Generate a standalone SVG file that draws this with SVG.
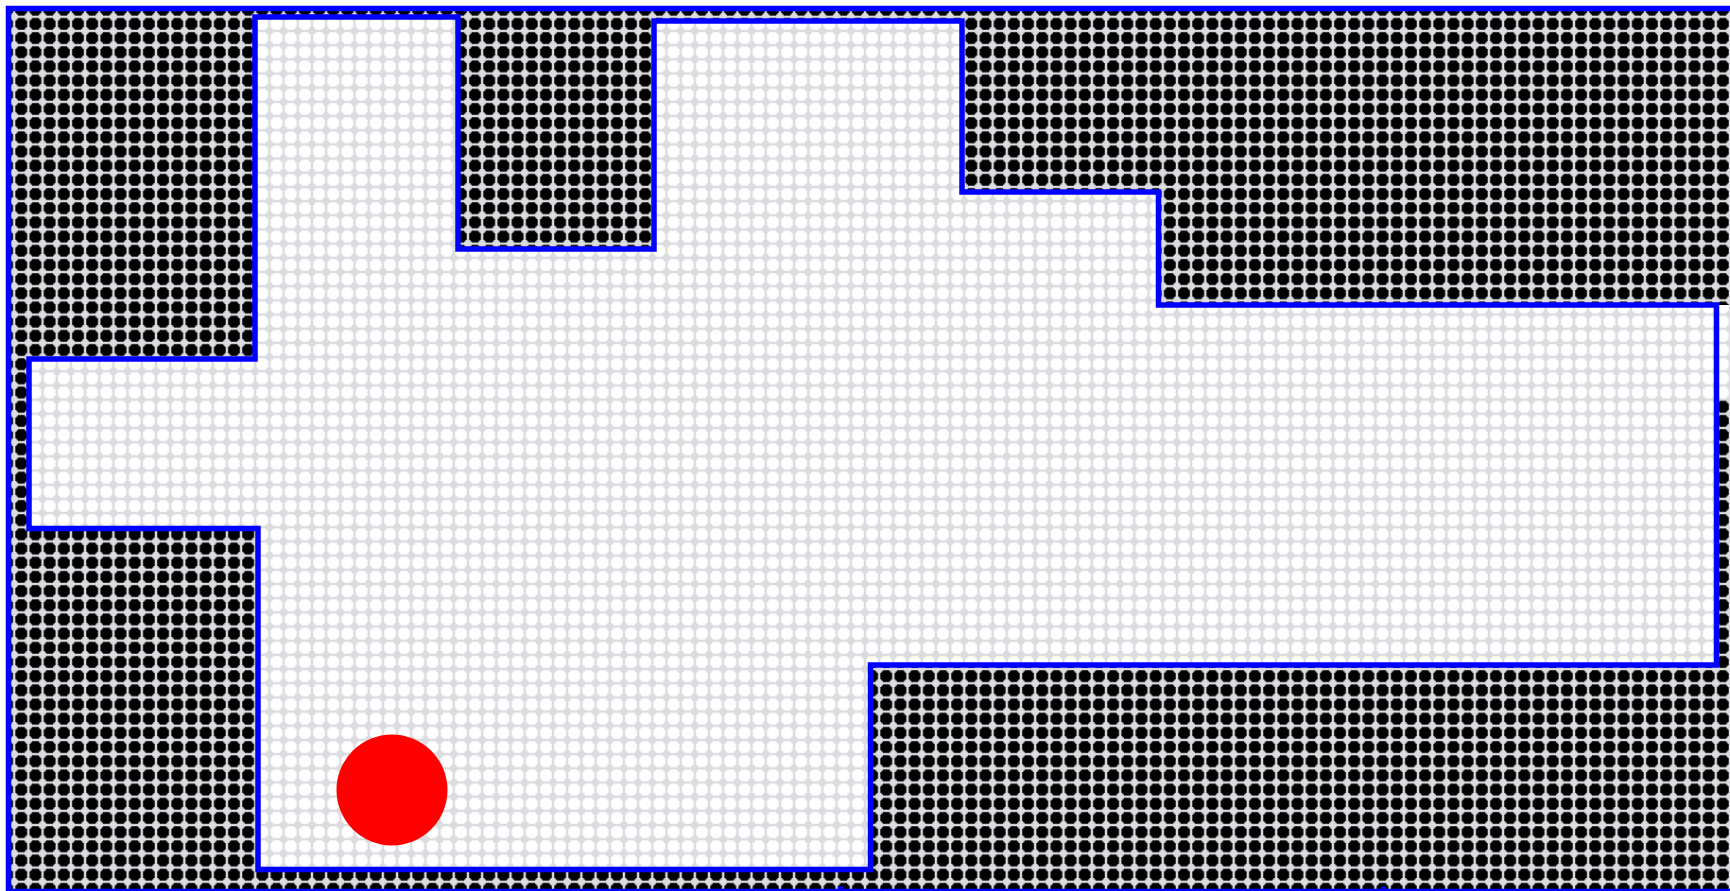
<svg xmlns="http://www.w3.org/2000/svg" width="1730" height="891" viewBox="0 0 1730 891">
  <style>
    .outline { fill: none; stroke: #0000ff; stroke-width: 5.5; stroke-linejoin: miter; }
    .tick { fill: #0000ff; }
  </style>
  <defs>
    <pattern id="occ" patternUnits="userSpaceOnUse" x="0" y="2.6" width="14.18" height="14.18">
      <rect x="0" y="0" width="14.18" height="14.18" fill="#dcdce0"/>
      <polygon points="3.7,1.2 10.48,1.2 10.48,2.4 11.78,2.4 11.78,3.7 12.98,3.7 12.98,10.48 11.78,10.48 11.78,11.78 10.48,11.78 10.48,12.98 3.7,12.98 3.7,11.78 2.4,11.78 2.4,10.48 1.2,10.48 1.2,3.7 2.4,3.7 2.4,2.4 3.7,2.4" fill="#000000"/>
    </pattern>
    <pattern id="free" patternUnits="userSpaceOnUse" x="0" y="2.6" width="14.18" height="14.18">
      <rect x="0" y="0" width="14.18" height="14.18" fill="#dcdce0"/>
      <polygon points="3.7,1.2 10.48,1.2 10.48,2.4 11.78,2.4 11.78,3.7 12.98,3.7 12.98,10.48 11.78,10.48 11.78,11.78 10.48,11.78 10.48,12.98 3.7,12.98 3.7,11.78 2.4,11.78 2.4,10.48 1.2,10.48 1.2,3.7 2.4,3.7 2.4,2.4 3.7,2.4" fill="#ffffff"/>
    </pattern>
  </defs>
  <rect x="0" y="0" width="1730" height="891" fill="#ffffff"/>
  <g id="occupied">
    <rect x="11" y="11" width="1719" height="878" fill="url(#occ)"/>
  </g>
  <g id="free-space">
    <polygon points="255,17 458,17 458,249 654,249 654,21 962,21 962,192 1158.5,192 1158.5,305 1716.5,305 1716.5,665 870.5,665 870.5,869.5 258,869.5 258,528.5 29,528.5 29,359 255,359" fill="url(#free)"/>
    <rect x="1716.5" y="305" width="14" height="95" fill="url(#free)"/>
  </g>
  <g id="outlines">
    <rect class="outline" x="8.5" y="8.5" width="1800" height="883"/>
    <polygon class="outline" points="255,17 458,17 458,249 654,249 654,21 962,21 962,192 1158.5,192 1158.5,305 1716.5,305 1716.5,665 870.5,665 870.5,869.5 258,869.5 258,528.5 29,528.5 29,359 255,359"/>
    <rect class="tick" x="838" y="886.5" width="5" height="5"/>
    <rect class="tick" x="1381" y="886.5" width="5" height="5"/>
  </g>
  <g id="robot">
    <circle cx="392" cy="790" r="55.5" fill="#ff0000"/>
  </g>
</svg>
